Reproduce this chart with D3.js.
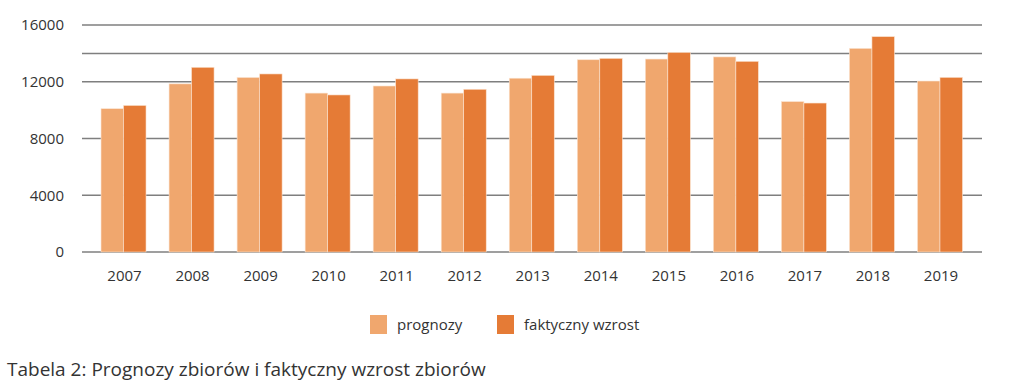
<!DOCTYPE html>
<html>
<head>
<meta charset="utf-8">
<script src="https://cdn.jsdelivr.net/npm/d3@7"></script>
<style>
  body { margin: 0; background: #fff; }
  svg text { font-family: "Liberation Sans Narrow", "Open Sans", sans-serif; fill: #333; }
</style>
</head>
<body>
<div id="chart"></div>
<script>
// data
var years = ["2007", "2008", "2009", "2010", "2011", "2012", "2013", "2014", "2015", "2016", "2017", "2018", "2019"];
var prognozy = [10100, 11850, 12300, 11200, 11700, 11200, 12250, 13550, 13600, 13750, 10600, 14350, 12050];
var faktyczny = [10330, 13020, 12550, 11070, 12200, 11470, 12450, 13650, 14070, 13440, 10500, 15180, 12310];
var seriesNames = ["prognozy", "faktyczny wzrost"];
var gridValues = [0, 4000, 8000, 12000, 14000, 16000];
var tickLabels = [0, 4000, 8000, 12000, 16000];

var colors = ["#f0a76e", "#e57b36"];
var w = 1010, h = 389;

var svg = d3.select("#chart").append("svg")
    .attr("width", w)
    .attr("height", h);

var x = d3.scaleBand().domain(years).range([89.5, 974]);
var sub = d3.scaleBand().domain([0, 1]).range([0, 45]);
var y = d3.scaleLinear().domain([0, 16000]).range([252, 25]);

// grid lines
svg.append("g").selectAll("line")
    .data(gridValues)
    .enter().append("line")
    .attr("x1", 82).attr("x2", 982)
    .attr("y1", function(d) { return y(d); })
    .attr("y2", function(d) { return y(d); })
    .attr("stroke", "#7f7f7f")
    .attr("stroke-width", 1.5);

// y labels
svg.append("g").selectAll("text")
    .data(tickLabels)
    .enter().append("text")
    .attr("x", 64)
    .attr("y", function(d) { return y(d); })
    .attr("dy", "0.35em")
    .attr("text-anchor", "end")
    .style("font-size", "15px")
    .text(function(d) { return d; });

// bars
var rows = years.map(function(yr, i) { return { year: yr, vals: [prognozy[i], faktyczny[i]] }; });
var groups = svg.append("g").selectAll("g")
    .data(rows)
    .enter().append("g")
    .attr("transform", function(d) { return "translate(" + (x(d.year) + x.bandwidth() / 2 - 22.5) + ",0)"; });

groups.selectAll("rect")
    .data(function(d) { return d.vals; })
    .enter().append("rect")
    .attr("x", function(d, i) { return sub(i); })
    .attr("y", function(d) { return y(d); })
    .attr("width", sub.bandwidth())
    .attr("height", function(d) { return y(0) - y(d); })
    .attr("fill", function(d, i) { return colors[i]; })
    .attr("stroke", "#fbe3d0")
    .attr("stroke-width", 0.6);

// x labels
svg.append("g").selectAll("text")
    .data(years)
    .enter().append("text")
    .attr("x", function(d) { return x(d) + x.bandwidth() / 2 + 1; })
    .attr("y", 281)
    .attr("text-anchor", "middle")
    .style("font-size", "15px")
    .text(function(d) { return d; });

// legend
var legendX = [370, 497];
var legend = svg.append("g").selectAll("g")
    .data(seriesNames)
    .enter().append("g")
    .attr("transform", function(d, i) { return "translate(" + legendX[i] + ",315)"; });
legend.append("rect")
    .attr("width", 17).attr("height", 19)
    .attr("fill", function(d, i) { return colors[i]; });
legend.append("text")
    .attr("x", 27).attr("y", 10)
    .attr("dy", "0.35em")
    .style("font-size", "15px")
    .text(function(d) { return d; });

// caption
svg.append("text")
    .attr("x", 7).attr("y", 376)
    .style("font-size", "19px")
    .text("Tabela 2: Prognozy zbiorów i faktyczny wzrost zbiorów");
</script>
</body>
</html>
